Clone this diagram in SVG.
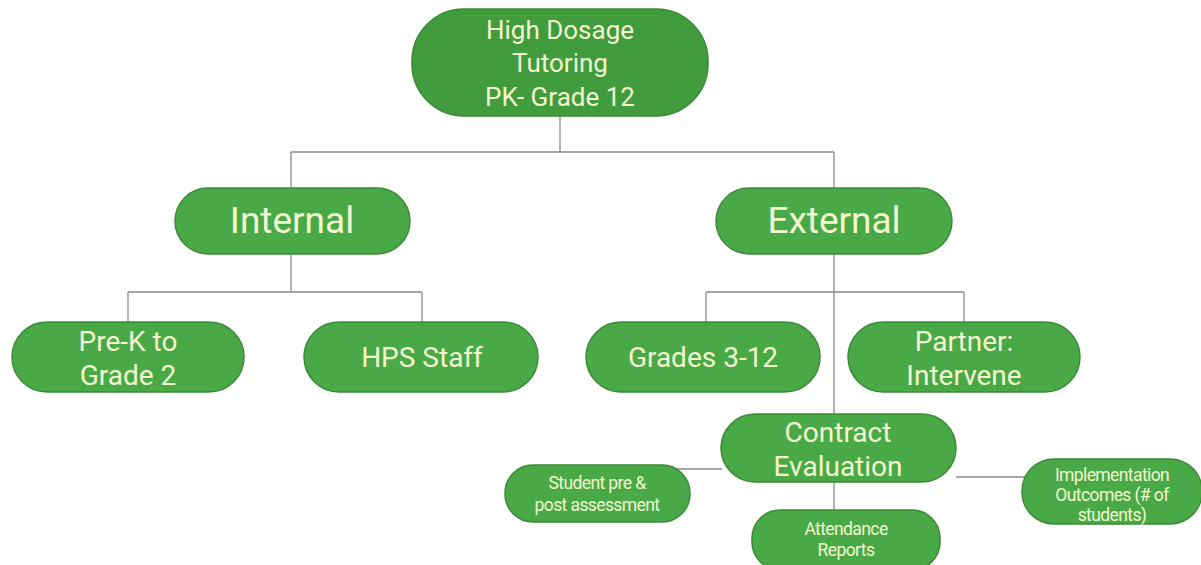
<svg xmlns="http://www.w3.org/2000/svg" width="1201" height="565" viewBox="0 0 1201 565">
<style>
.node rect{fill:#4aa947;stroke:#3a8a36;stroke-width:1.5}
#top rect{fill:#409c3d}
.node text{fill:#f2f7cf;font-family:Roboto,"Liberation Sans",sans-serif;text-anchor:middle}
.big{font-size:37px}
.mid{font-size:28px}
.top{font-size:26px}
.sm{font-size:17.5px;letter-spacing:-0.6px}
.conn path{fill:none;stroke:#8a8a8a;stroke-width:1.3}
</style>
<rect width="1201" height="565" fill="#ffffff"/>
<g class="conn" id="connectors">
<path d="M560 117V152M291 152H834M291 152V188M834 152V188"/>
<path d="M291 254V292M128 292H422M128 292V322M422 292V322"/>
<path d="M834 254V414M706 292H964M706 292V322M964 292V322"/>
<path d="M640 469H722M956 477H1030M834 482V510"/>
</g>
<g class="node" id="top"><rect x="412" y="9" width="296" height="107" rx="52"/>
<text class="top" x="560" y="39">High Dosage</text><text class="top" x="560" y="72">Tutoring</text><text class="top" x="560" y="106">PK- Grade 12</text></g>
<g class="node" id="internal"><rect x="175" y="188" width="235" height="66" rx="33"/><text class="big" x="292" y="233">Internal</text></g>
<g class="node" id="external"><rect x="716" y="188" width="236" height="66" rx="33"/><text class="big" x="834" y="233">External</text></g>
<g class="node" id="prek"><rect x="12" y="322" width="232" height="70" rx="35"/><text class="mid" x="128" y="351">Pre-K to</text><text class="mid" x="128" y="385">Grade 2</text></g>
<g class="node" id="hps"><rect x="304" y="322" width="234" height="70" rx="35"/><text class="mid" x="422" y="367">HPS Staff</text></g>
<g class="node" id="grades"><rect x="586" y="322" width="234" height="70" rx="35"/><text class="mid" x="703" y="367">Grades 3-12</text></g>
<g class="node" id="partner"><rect x="848" y="322" width="232" height="70" rx="35"/><text class="mid" x="964" y="351">Partner:</text><text class="mid" x="964" y="385">Intervene</text></g>
<g class="node" id="contract"><rect x="721" y="414" width="235" height="68" rx="34"/><text class="mid" x="838" y="442">Contract</text><text class="mid" x="838" y="476">Evaluation</text></g>
<g class="node" id="student"><rect x="505" y="465" width="185" height="57" rx="28"/><text class="sm" x="597" y="489">Student pre &amp;</text><text class="sm" x="597" y="511">post assessment</text></g>
<g class="node" id="attendance"><rect x="752" y="510" width="188" height="60" rx="28"/><text class="sm" x="846" y="535">Attendance</text><text class="sm" x="846" y="556">Reports</text></g>
<g class="node" id="impl"><rect x="1022" y="459" width="180" height="65" rx="32"/><text class="sm" x="1112" y="481">Implementation</text><text class="sm" x="1112" y="501">Outcomes (# of</text><text class="sm" x="1112" y="521">students)</text></g>
</svg>
